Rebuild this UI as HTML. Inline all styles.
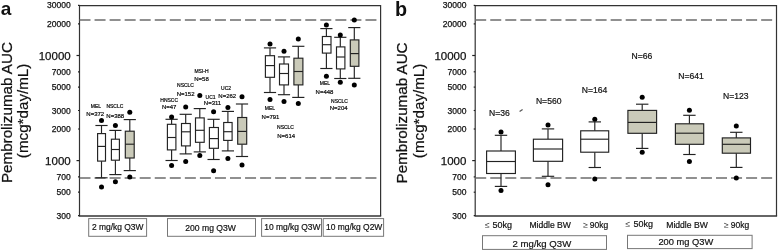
<!DOCTYPE html>
<html><head><meta charset="utf-8"><style>
html,body{margin:0;padding:0;background:#fff;}
body{width:778px;height:251px;overflow:hidden;}
svg{display:block;font-family:"Liberation Sans", sans-serif;will-change:transform;}
</style></head><body>
<svg width="778" height="251" viewBox="0 0 778 251" font-family='"Liberation Sans", sans-serif' fill="#111">
<path d="M79.5 216 V5.6 H380.6 V216" fill="none" stroke="#333" stroke-width="1.2"/>
<line x1="78.9" y1="216.0" x2="381.20000000000005" y2="216.0" stroke="#333" stroke-width="1.5"/>
<line x1="79.5" y1="20" x2="377.1" y2="20" stroke="#6c6c6c" stroke-width="1.7" stroke-dasharray="11 4.05"/>
<line x1="79.5" y1="178" x2="377.1" y2="178" stroke="#6c6c6c" stroke-width="1.7" stroke-dasharray="11 4.05"/>
<line x1="78.0" y1="5.4" x2="79.5" y2="5.4" stroke="#222" stroke-width="1.2"/>
<text x="70.7" y="8.4" font-size="8.5" text-anchor="end" stroke="#111" stroke-width="0.25">30000</text>
<line x1="78.0" y1="23.9" x2="79.5" y2="23.9" stroke="#222" stroke-width="1.2"/>
<text x="70.7" y="26.9" font-size="8.5" text-anchor="end" stroke="#111" stroke-width="0.25">20000</text>
<line x1="76.5" y1="55.5" x2="79.5" y2="55.5" stroke="#222" stroke-width="1.2"/>
<text x="70.7" y="59.6" font-size="11.5" text-anchor="end" stroke="#111" stroke-width="0.25">10000</text>
<line x1="78.0" y1="71.8" x2="79.5" y2="71.8" stroke="#222" stroke-width="1.2"/>
<text x="70.7" y="74.8" font-size="8.5" text-anchor="end" stroke="#111" stroke-width="0.25">7000</text>
<line x1="78.0" y1="87.1" x2="79.5" y2="87.1" stroke="#222" stroke-width="1.2"/>
<text x="70.7" y="90.2" font-size="8.5" text-anchor="end" stroke="#111" stroke-width="0.25">5000</text>
<line x1="78.0" y1="110.5" x2="79.5" y2="110.5" stroke="#222" stroke-width="1.2"/>
<text x="70.7" y="113.5" font-size="8.5" text-anchor="end" stroke="#111" stroke-width="0.25">3000</text>
<line x1="78.0" y1="129.0" x2="79.5" y2="129.0" stroke="#222" stroke-width="1.2"/>
<text x="70.7" y="132.0" font-size="8.5" text-anchor="end" stroke="#111" stroke-width="0.25">2000</text>
<line x1="76.5" y1="160.6" x2="79.5" y2="160.6" stroke="#222" stroke-width="1.2"/>
<text x="70.7" y="164.7" font-size="11.5" text-anchor="end" stroke="#111" stroke-width="0.25">1000</text>
<line x1="78.0" y1="176.9" x2="79.5" y2="176.9" stroke="#222" stroke-width="1.2"/>
<text x="70.7" y="179.9" font-size="8.5" text-anchor="end" stroke="#111" stroke-width="0.25">700</text>
<line x1="78.0" y1="192.2" x2="79.5" y2="192.2" stroke="#222" stroke-width="1.2"/>
<text x="70.7" y="195.3" font-size="8.5" text-anchor="end" stroke="#111" stroke-width="0.25">500</text>
<line x1="78.0" y1="215.6" x2="79.5" y2="215.6" stroke="#222" stroke-width="1.2"/>
<text x="70.7" y="218.6" font-size="8.5" text-anchor="end" stroke="#111" stroke-width="0.25">300</text>
<path d="M475.2 216 V5.6 H776.5 V216" fill="none" stroke="#333" stroke-width="1.2"/>
<line x1="474.59999999999997" y1="216.0" x2="777.1" y2="216.0" stroke="#333" stroke-width="1.5"/>
<line x1="475.2" y1="20" x2="773.0" y2="20" stroke="#6c6c6c" stroke-width="1.7" stroke-dasharray="11 4.05"/>
<line x1="475.2" y1="178" x2="773.0" y2="178" stroke="#6c6c6c" stroke-width="1.7" stroke-dasharray="11 4.05"/>
<line x1="473.7" y1="5.4" x2="475.2" y2="5.4" stroke="#222" stroke-width="1.2"/>
<text x="466.4" y="8.4" font-size="8.5" text-anchor="end" stroke="#111" stroke-width="0.25">30000</text>
<line x1="473.7" y1="23.9" x2="475.2" y2="23.9" stroke="#222" stroke-width="1.2"/>
<text x="466.4" y="26.9" font-size="8.5" text-anchor="end" stroke="#111" stroke-width="0.25">20000</text>
<line x1="472.2" y1="55.5" x2="475.2" y2="55.5" stroke="#222" stroke-width="1.2"/>
<text x="466.4" y="59.6" font-size="11.5" text-anchor="end" stroke="#111" stroke-width="0.25">10000</text>
<line x1="473.7" y1="71.8" x2="475.2" y2="71.8" stroke="#222" stroke-width="1.2"/>
<text x="466.4" y="74.8" font-size="8.5" text-anchor="end" stroke="#111" stroke-width="0.25">7000</text>
<line x1="473.7" y1="87.1" x2="475.2" y2="87.1" stroke="#222" stroke-width="1.2"/>
<text x="466.4" y="90.2" font-size="8.5" text-anchor="end" stroke="#111" stroke-width="0.25">5000</text>
<line x1="473.7" y1="110.5" x2="475.2" y2="110.5" stroke="#222" stroke-width="1.2"/>
<text x="466.4" y="113.5" font-size="8.5" text-anchor="end" stroke="#111" stroke-width="0.25">3000</text>
<line x1="473.7" y1="129.0" x2="475.2" y2="129.0" stroke="#222" stroke-width="1.2"/>
<text x="466.4" y="132.0" font-size="8.5" text-anchor="end" stroke="#111" stroke-width="0.25">2000</text>
<line x1="472.2" y1="160.6" x2="475.2" y2="160.6" stroke="#222" stroke-width="1.2"/>
<text x="466.4" y="164.7" font-size="11.5" text-anchor="end" stroke="#111" stroke-width="0.25">1000</text>
<line x1="473.7" y1="176.9" x2="475.2" y2="176.9" stroke="#222" stroke-width="1.2"/>
<text x="466.4" y="179.9" font-size="8.5" text-anchor="end" stroke="#111" stroke-width="0.25">700</text>
<line x1="473.7" y1="192.2" x2="475.2" y2="192.2" stroke="#222" stroke-width="1.2"/>
<text x="466.4" y="195.3" font-size="8.5" text-anchor="end" stroke="#111" stroke-width="0.25">500</text>
<line x1="473.7" y1="215.6" x2="475.2" y2="215.6" stroke="#222" stroke-width="1.2"/>
<text x="466.4" y="218.6" font-size="8.5" text-anchor="end" stroke="#111" stroke-width="0.25">300</text>
<text transform="translate(11.5,112.6) rotate(-90)" font-size="15.2" text-anchor="middle" stroke="#111" stroke-width="0.25">Pembrolizumab AUC</text>
<text transform="translate(28.3,110.9) rotate(-90)" font-size="15.2" text-anchor="middle" stroke="#111" stroke-width="0.2">(mcg*day/mL)</text>
<text transform="translate(406.5,112.9) rotate(-90)" font-size="15.2" text-anchor="middle" stroke="#111" stroke-width="0.25">Pembrolizumab AUC</text>
<text transform="translate(423.8,110.9) rotate(-90)" font-size="15.2" text-anchor="middle" stroke="#111" stroke-width="0.2">(mcg*day/mL)</text>
<g stroke="#222" stroke-width="1.15" fill="none">
<line x1="101.5" y1="125.5" x2="101.5" y2="133.6"/>
<line x1="101.5" y1="161.1" x2="101.5" y2="177.8"/>
<line x1="95.4" y1="125.5" x2="107.6" y2="125.5"/>
<line x1="95.4" y1="177.8" x2="107.6" y2="177.8"/>
<rect x="97.6" y="133.6" width="7.90" height="27.50" fill="#fff"/>
<line x1="97.6" y1="146.4" x2="105.5" y2="146.4"/>
<circle cx="101.5" cy="120.4" r="2.5" fill="#000" stroke="none"/>
<circle cx="101.5" cy="187.1" r="2.5" fill="#000" stroke="none"/>
<line x1="115.4" y1="130.4" x2="115.4" y2="139.2"/>
<line x1="115.4" y1="160.2" x2="115.4" y2="174.6"/>
<line x1="109.30000000000001" y1="130.4" x2="121.5" y2="130.4"/>
<line x1="109.30000000000001" y1="174.6" x2="121.5" y2="174.6"/>
<rect x="111.4" y="139.2" width="8.00" height="21.00" fill="#fff"/>
<line x1="111.4" y1="149.5" x2="119.4" y2="149.5"/>
<circle cx="115.4" cy="125.5" r="2.5" fill="#000" stroke="none"/>
<circle cx="115.4" cy="181.8" r="2.5" fill="#000" stroke="none"/>
<line x1="129.8" y1="119.6" x2="129.8" y2="131.2"/>
<line x1="129.8" y1="158.0" x2="129.8" y2="170.6"/>
<line x1="123.70000000000002" y1="119.6" x2="135.9" y2="119.6"/>
<line x1="123.70000000000002" y1="170.6" x2="135.9" y2="170.6"/>
<rect x="125.3" y="131.2" width="8.90" height="26.80" fill="#cacab9"/>
<line x1="125.3" y1="144.2" x2="134.2" y2="144.2"/>
<circle cx="129.8" cy="112.2" r="2.5" fill="#000" stroke="none"/>
<circle cx="129.8" cy="176.9" r="2.5" fill="#000" stroke="none"/>
<line x1="171.6" y1="119.3" x2="171.6" y2="124.3"/>
<line x1="171.6" y1="149.9" x2="171.6" y2="160.5"/>
<line x1="165.5" y1="119.3" x2="177.7" y2="119.3"/>
<line x1="165.5" y1="160.5" x2="177.7" y2="160.5"/>
<rect x="167.4" y="124.3" width="8.50" height="25.60" fill="#fff"/>
<line x1="167.4" y1="137.5" x2="175.9" y2="137.5"/>
<circle cx="171.6" cy="116.9" r="2.5" fill="#000" stroke="none"/>
<circle cx="171.6" cy="165.5" r="2.5" fill="#000" stroke="none"/>
<line x1="185.7" y1="114.3" x2="185.7" y2="123.5"/>
<line x1="185.7" y1="145.9" x2="185.7" y2="153.9"/>
<line x1="179.6" y1="114.3" x2="191.79999999999998" y2="114.3"/>
<line x1="179.6" y1="153.9" x2="191.79999999999998" y2="153.9"/>
<rect x="181.5" y="123.5" width="8.80" height="22.40" fill="#fff"/>
<line x1="181.5" y1="131.8" x2="190.3" y2="131.8"/>
<circle cx="185.7" cy="107.1" r="2.5" fill="#000" stroke="none"/>
<circle cx="185.7" cy="161.5" r="2.5" fill="#000" stroke="none"/>
<line x1="199.8" y1="108.6" x2="199.8" y2="117.9"/>
<line x1="199.8" y1="142.3" x2="199.8" y2="151.9"/>
<line x1="193.70000000000002" y1="108.6" x2="205.9" y2="108.6"/>
<line x1="193.70000000000002" y1="151.9" x2="205.9" y2="151.9"/>
<rect x="195.5" y="117.9" width="8.70" height="24.40" fill="#fff"/>
<line x1="195.5" y1="130.3" x2="204.2" y2="130.3"/>
<circle cx="199.8" cy="95.5" r="2.5" fill="#000" stroke="none"/>
<circle cx="199.8" cy="155.5" r="2.5" fill="#000" stroke="none"/>
<line x1="213.6" y1="119.3" x2="213.6" y2="127.5"/>
<line x1="213.6" y1="148.3" x2="213.6" y2="159.5"/>
<line x1="207.5" y1="119.3" x2="219.7" y2="119.3"/>
<line x1="207.5" y1="159.5" x2="219.7" y2="159.5"/>
<rect x="209.4" y="127.5" width="9.00" height="20.80" fill="#fff"/>
<line x1="209.4" y1="138.6" x2="218.4" y2="138.6"/>
<circle cx="213.6" cy="111.8" r="2.5" fill="#000" stroke="none"/>
<circle cx="213.6" cy="170.8" r="2.5" fill="#000" stroke="none"/>
<line x1="227.9" y1="111.4" x2="227.9" y2="122.5"/>
<line x1="227.9" y1="140.4" x2="227.9" y2="150.9"/>
<line x1="221.8" y1="111.4" x2="234.0" y2="111.4"/>
<line x1="221.8" y1="150.9" x2="234.0" y2="150.9"/>
<rect x="223.7" y="122.5" width="8.40" height="17.90" fill="#fff"/>
<line x1="223.7" y1="131.7" x2="232.1" y2="131.7"/>
<circle cx="227.9" cy="107.6" r="2.5" fill="#000" stroke="none"/>
<circle cx="227.9" cy="158.5" r="2.5" fill="#000" stroke="none"/>
<line x1="242.0" y1="104.0" x2="242.0" y2="117.5"/>
<line x1="242.0" y1="144.2" x2="242.0" y2="156.5"/>
<line x1="235.9" y1="104.0" x2="248.1" y2="104.0"/>
<line x1="235.9" y1="156.5" x2="248.1" y2="156.5"/>
<rect x="237.7" y="117.5" width="9.00" height="26.70" fill="#cacab9"/>
<line x1="237.7" y1="131.4" x2="246.7" y2="131.4"/>
<circle cx="242.0" cy="96.8" r="2.5" fill="#000" stroke="none"/>
<circle cx="242.0" cy="164.9" r="2.5" fill="#000" stroke="none"/>
<line x1="270.0" y1="47.9" x2="270.0" y2="55.7"/>
<line x1="270.0" y1="77.3" x2="270.0" y2="92.5"/>
<line x1="263.9" y1="47.9" x2="276.1" y2="47.9"/>
<line x1="263.9" y1="92.5" x2="276.1" y2="92.5"/>
<rect x="265.4" y="55.7" width="9.10" height="21.60" fill="#fff"/>
<line x1="265.4" y1="65.6" x2="274.5" y2="65.6"/>
<circle cx="270.0" cy="43.9" r="2.5" fill="#000" stroke="none"/>
<circle cx="270.0" cy="99.6" r="2.5" fill="#000" stroke="none"/>
<line x1="284.0" y1="56.9" x2="284.0" y2="64.0"/>
<line x1="284.0" y1="84.9" x2="284.0" y2="94.7"/>
<line x1="277.9" y1="56.9" x2="290.1" y2="56.9"/>
<line x1="277.9" y1="94.7" x2="290.1" y2="94.7"/>
<rect x="279.5" y="64.0" width="9.00" height="20.90" fill="#fff"/>
<line x1="279.5" y1="73.5" x2="288.5" y2="73.5"/>
<circle cx="284.0" cy="51.3" r="2.5" fill="#000" stroke="none"/>
<circle cx="284.0" cy="101.4" r="2.5" fill="#000" stroke="none"/>
<line x1="298.3" y1="46.3" x2="298.3" y2="58.2"/>
<line x1="298.3" y1="84.9" x2="298.3" y2="97.4"/>
<line x1="292.2" y1="46.3" x2="304.40000000000003" y2="46.3"/>
<line x1="292.2" y1="97.4" x2="304.40000000000003" y2="97.4"/>
<rect x="293.9" y="58.2" width="9.00" height="26.70" fill="#cacab9"/>
<line x1="293.9" y1="71.5" x2="302.9" y2="71.5"/>
<circle cx="298.3" cy="38.9" r="2.5" fill="#000" stroke="none"/>
<circle cx="298.3" cy="103.4" r="2.5" fill="#000" stroke="none"/>
<line x1="326.4" y1="28.6" x2="326.4" y2="36.5"/>
<line x1="326.4" y1="53.1" x2="326.4" y2="68.5"/>
<line x1="320.29999999999995" y1="28.6" x2="332.5" y2="28.6"/>
<line x1="320.29999999999995" y1="68.5" x2="332.5" y2="68.5"/>
<rect x="322.4" y="36.5" width="8.60" height="16.60" fill="#fff"/>
<line x1="322.4" y1="44.7" x2="331.0" y2="44.7"/>
<circle cx="326.4" cy="25.0" r="2.5" fill="#000" stroke="none"/>
<circle cx="326.4" cy="76.2" r="2.5" fill="#000" stroke="none"/>
<line x1="340.3" y1="37.3" x2="340.3" y2="46.9"/>
<line x1="340.3" y1="68.9" x2="340.3" y2="78.5"/>
<line x1="334.2" y1="37.3" x2="346.40000000000003" y2="37.3"/>
<line x1="334.2" y1="78.5" x2="346.40000000000003" y2="78.5"/>
<rect x="336.5" y="46.9" width="8.40" height="22.00" fill="#fff"/>
<line x1="336.5" y1="57.0" x2="344.9" y2="57.0"/>
<circle cx="340.3" cy="34.9" r="2.5" fill="#000" stroke="none"/>
<circle cx="340.3" cy="82.3" r="2.5" fill="#000" stroke="none"/>
<line x1="354.3" y1="27.6" x2="354.3" y2="39.9"/>
<line x1="354.3" y1="66.3" x2="354.3" y2="78.3"/>
<line x1="348.2" y1="27.6" x2="360.40000000000003" y2="27.6"/>
<line x1="348.2" y1="78.3" x2="360.40000000000003" y2="78.3"/>
<rect x="350.3" y="39.9" width="8.60" height="26.40" fill="#cacab9"/>
<line x1="350.3" y1="53.6" x2="358.9" y2="53.6"/>
<circle cx="354.3" cy="20.0" r="2.5" fill="#000" stroke="none"/>
<circle cx="354.3" cy="84.9" r="2.5" fill="#000" stroke="none"/>
<line x1="501.0" y1="135.3" x2="501.0" y2="151.0"/>
<line x1="501.0" y1="173.5" x2="501.0" y2="186.4"/>
<line x1="494.8" y1="135.3" x2="507.2" y2="135.3"/>
<line x1="494.8" y1="186.4" x2="507.2" y2="186.4"/>
<rect x="486.6" y="151.0" width="28.80" height="22.50" fill="#fff"/>
<line x1="486.6" y1="161.5" x2="515.4" y2="161.5"/>
<circle cx="501.0" cy="131.9" r="2.5" fill="#000" stroke="none"/>
<circle cx="501.0" cy="190.5" r="2.5" fill="#000" stroke="none"/>
<line x1="548.0" y1="128.9" x2="548.0" y2="139.2"/>
<line x1="548.0" y1="161.3" x2="548.0" y2="176.3"/>
<line x1="541.8" y1="128.9" x2="554.2" y2="128.9"/>
<line x1="541.8" y1="176.3" x2="554.2" y2="176.3"/>
<rect x="533.4" y="139.2" width="29.20" height="22.10" fill="#fff"/>
<line x1="533.4" y1="149.0" x2="562.6" y2="149.0"/>
<circle cx="548.0" cy="124.9" r="2.5" fill="#000" stroke="none"/>
<circle cx="548.0" cy="184.7" r="2.5" fill="#000" stroke="none"/>
<line x1="594.8" y1="121.9" x2="594.8" y2="130.8"/>
<line x1="594.8" y1="152.2" x2="594.8" y2="167.5"/>
<line x1="588.5999999999999" y1="121.9" x2="601.0" y2="121.9"/>
<line x1="588.5999999999999" y1="167.5" x2="601.0" y2="167.5"/>
<rect x="580.7" y="130.8" width="28.00" height="21.40" fill="#fff"/>
<line x1="580.7" y1="139.2" x2="608.7" y2="139.2"/>
<circle cx="594.8" cy="119.3" r="2.5" fill="#000" stroke="none"/>
<circle cx="594.8" cy="179.0" r="2.5" fill="#000" stroke="none"/>
<line x1="642.2" y1="104.2" x2="642.2" y2="110.4"/>
<line x1="642.2" y1="133.3" x2="642.2" y2="148.4"/>
<line x1="636.0" y1="104.2" x2="648.4000000000001" y2="104.2"/>
<line x1="636.0" y1="148.4" x2="648.4000000000001" y2="148.4"/>
<rect x="627.9" y="110.4" width="28.70" height="22.90" fill="#cacab9"/>
<line x1="627.9" y1="122.4" x2="656.6" y2="122.4"/>
<circle cx="642.2" cy="97.3" r="2.5" fill="#000" stroke="none"/>
<circle cx="642.2" cy="152.3" r="2.5" fill="#000" stroke="none"/>
<line x1="689.4" y1="115.3" x2="689.4" y2="123.8"/>
<line x1="689.4" y1="144.3" x2="689.4" y2="154.5"/>
<line x1="683.1999999999999" y1="115.3" x2="695.6" y2="115.3"/>
<line x1="683.1999999999999" y1="154.5" x2="695.6" y2="154.5"/>
<rect x="675.4" y="123.8" width="28.30" height="20.50" fill="#cacab9"/>
<line x1="675.4" y1="133.2" x2="703.7" y2="133.2"/>
<circle cx="689.4" cy="110.3" r="2.5" fill="#000" stroke="none"/>
<circle cx="689.4" cy="161.5" r="2.5" fill="#000" stroke="none"/>
<line x1="736.3" y1="132.3" x2="736.3" y2="137.9"/>
<line x1="736.3" y1="153.2" x2="736.3" y2="167.4"/>
<line x1="730.0999999999999" y1="132.3" x2="742.5" y2="132.3"/>
<line x1="730.0999999999999" y1="167.4" x2="742.5" y2="167.4"/>
<rect x="722.3" y="137.9" width="28.20" height="15.30" fill="#cacab9"/>
<line x1="722.3" y1="144.3" x2="750.5" y2="144.3"/>
<circle cx="736.3" cy="126.0" r="2.5" fill="#000" stroke="none"/>
<circle cx="736.3" cy="177.9" r="2.5" fill="#000" stroke="none"/>
</g>
<g fill="#000">
<text x="95.9" y="107.8" font-size="5" text-anchor="middle" stroke="#111" stroke-width="0.2" >MEL</text>
<text x="114.9" y="107.8" font-size="5" text-anchor="middle" stroke="#111" stroke-width="0.2" >NSCLC</text>
<text x="95.3" y="116.2" font-size="6" text-anchor="middle" stroke="#111" stroke-width="0.2" >N=372</text>
<text x="115.3" y="118.2" font-size="6" text-anchor="middle" stroke="#111" stroke-width="0.2" >N=388</text>
<text x="169.2" y="101.8" font-size="5" text-anchor="middle" stroke="#111" stroke-width="0.2" >HNSCC</text>
<text x="169.2" y="109.4" font-size="6" text-anchor="middle" stroke="#111" stroke-width="0.2" >N=47</text>
<text x="185.5" y="86.8" font-size="5" text-anchor="middle" stroke="#111" stroke-width="0.2" >NSCLC</text>
<text x="185.6" y="95.6" font-size="6" text-anchor="middle" stroke="#111" stroke-width="0.2" >N=152</text>
<text x="201.5" y="72.8" font-size="5" text-anchor="middle" stroke="#111" stroke-width="0.2" >MSI-H</text>
<text x="201.5" y="80.8" font-size="6" text-anchor="middle" stroke="#111" stroke-width="0.2" >N=58</text>
<text x="210.6" y="99.0" font-size="5" text-anchor="middle" stroke="#111" stroke-width="0.2" >UC1</text>
<text x="212.5" y="105.0" font-size="6" text-anchor="middle" stroke="#111" stroke-width="0.2" >N=311</text>
<text x="226.1" y="90.3" font-size="5" text-anchor="middle" stroke="#111" stroke-width="0.2" >UC2</text>
<text x="227.3" y="97.7" font-size="6" text-anchor="middle" stroke="#111" stroke-width="0.2" >N=262</text>
<text x="270" y="110.3" font-size="5" text-anchor="middle" stroke="#111" stroke-width="0.2" >MEL</text>
<text x="270.5" y="118.5" font-size="6" text-anchor="middle" stroke="#111" stroke-width="0.2" >N=791</text>
<text x="285.5" y="128.8" font-size="5" text-anchor="middle" stroke="#111" stroke-width="0.2" >NSCLC</text>
<text x="286.2" y="137.7" font-size="6" text-anchor="middle" stroke="#111" stroke-width="0.2" >N=614</text>
<text x="325" y="84.8" font-size="5" text-anchor="middle" stroke="#111" stroke-width="0.2" >MEL</text>
<text x="324.5" y="93.6" font-size="6" text-anchor="middle" stroke="#111" stroke-width="0.2" >N=448</text>
<text x="339.5" y="102.8" font-size="5" text-anchor="middle" stroke="#111" stroke-width="0.2" >NSCLC</text>
<text x="338.7" y="110.2" font-size="6" text-anchor="middle" stroke="#111" stroke-width="0.2" >N=204</text>
</g>
<text x="499.5" y="115.5" font-size="8.6" text-anchor="middle" stroke="#111" stroke-width="0.2" >N=36</text>
<text x="548.7" y="104.3" font-size="8.6" text-anchor="middle" stroke="#111" stroke-width="0.2" >N=560</text>
<text x="594.5" y="93.4" font-size="8.6" text-anchor="middle" stroke="#111" stroke-width="0.2" >N=164</text>
<text x="642" y="59.1" font-size="8.6" text-anchor="middle" stroke="#111" stroke-width="0.2" >N=66</text>
<text x="691.1" y="79.0" font-size="8.6" text-anchor="middle" stroke="#111" stroke-width="0.2" >N=641</text>
<text x="735.8" y="99.4" font-size="8.6" text-anchor="middle" stroke="#111" stroke-width="0.2" >N=123</text>
<line x1="519.6" y1="111.6" x2="522.6" y2="109.5" stroke="#555" stroke-width="1.2"/>
<rect x="88.7" y="218.6" width="57.9" height="17.7" fill="none" stroke="#777" stroke-width="1"/>
<text x="117.75" y="229.9" font-size="8.45" text-anchor="middle" stroke="#111" stroke-width="0.2" >2 mg/kg Q3W</text>
<rect x="167.5" y="218.6" width="88.0" height="17.7" fill="none" stroke="#777" stroke-width="1"/>
<text x="210.6" y="230.8" font-size="8.6" text-anchor="middle" stroke="#111" stroke-width="0.2" >200 mg Q3W</text>
<rect x="261.6" y="218.6" width="59.9" height="17.7" fill="none" stroke="#777" stroke-width="1"/>
<text x="292.35" y="229.9" font-size="8.45" text-anchor="middle" stroke="#111" stroke-width="0.2" >10 mg/kg Q3W</text>
<rect x="323.2" y="218.6" width="60.4" height="17.7" fill="none" stroke="#777" stroke-width="1"/>
<text x="354.2" y="229.9" font-size="8.45" text-anchor="middle" stroke="#111" stroke-width="0.2" >10 mg/kg Q2W</text>
<text x="485.0" y="227.8" font-size="8.6" fill="#333">≤</text>
<text x="492.40000000000003" y="227.7" font-size="9" stroke="#111" stroke-width="0.2">50kg</text>
<text x="583.3" y="227.8" font-size="8.6" fill="#333">≥</text>
<text x="589.8000000000001" y="227.7" font-size="8.5" stroke="#111" stroke-width="0.2">90kg</text>
<text x="625.6" y="226.8" font-size="8.6" fill="#333">≤</text>
<text x="633.4" y="226.5" font-size="9" stroke="#111" stroke-width="0.2">50kg</text>
<text x="724.0" y="227.8" font-size="8.6" fill="#333">≥</text>
<text x="730.8000000000001" y="227.7" font-size="8.5" stroke="#111" stroke-width="0.2">90kg</text>
<text x="550.2" y="228.0" font-size="8.6" text-anchor="middle" stroke="#111" stroke-width="0.2" >Middle BW</text>
<text x="687.0" y="228.0" font-size="8.6" text-anchor="middle" stroke="#111" stroke-width="0.2" >Middle BW</text>
<rect x="482.5" y="235.7" width="124.0" height="13.7" fill="none" stroke="#777" stroke-width="1"/>
<text x="541.9" y="246.7" font-size="9.6" text-anchor="middle" stroke="#111" stroke-width="0.2" >2 mg/kg Q3W</text>
<rect x="627.5" y="235.3" width="124.6" height="13.3" fill="none" stroke="#777" stroke-width="1"/>
<text x="685.8" y="245.1" font-size="9.3" text-anchor="middle" stroke="#111" stroke-width="0.2" >200 mg Q3W</text>
<text x="0.7" y="15.3" font-size="19" font-weight="bold">a</text>
<text x="395.0" y="15.5" font-size="19.8" font-weight="bold">b</text>
</svg>
</body></html>
